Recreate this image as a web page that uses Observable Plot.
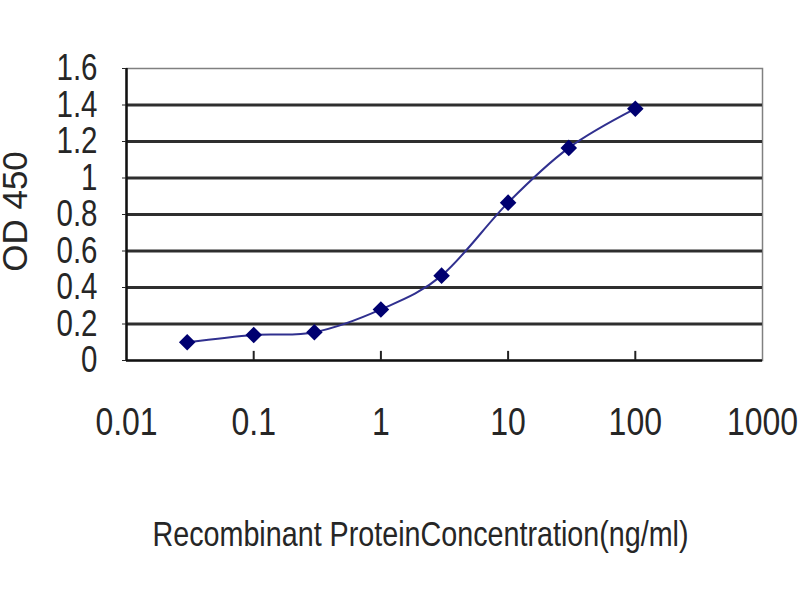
<!DOCTYPE html>
<html>
<head>
<meta charset="utf-8">
<script src="https://cdn.jsdelivr.net/npm/d3@7"></script>
<script src="https://cdn.jsdelivr.net/npm/@observablehq/plot@0.6"></script>
<style>
  body { margin: 0; background: #fff; }
  #chart svg { display: block; overflow: visible; }
</style>
</head>
<body>
<div id="chart"></div>
<script>
// ELISA standard curve values
var concentration = [0.03, 0.1, 0.3, 1, 3, 10, 30, 100];
var od450 = [0.10, 0.14, 0.155, 0.28, 0.465, 0.865, 1.165, 1.38];
var xTicks = [0.01, 0.1, 1, 10, 100, 1000];
var yTicks = [0, 0.2, 0.4, 0.6, 0.8, 1, 1.2, 1.4, 1.6];
var xTitle = "Recombinant ProteinConcentration(ng/ml)";
var yTitle = "OD 450";

var sans = "'Liberation Sans', Arial, sans-serif";

var points = concentration.map(function(c, i) { return {x: c, y: od450[i]}; });

var plot = Plot.plot({
  width: 800,
  height: 600,
  marginLeft: 126,
  marginRight: 38,
  marginTop: 68,
  marginBottom: 240,
  x: {type: "log", domain: [0.01, 1000]},
  y: {domain: [0, 1.6]},
  style: {fontFamily: sans, color: "#262626", background: "#fff"},
  marks: [
    Plot.frame({stroke: "#808080", strokeWidth: 1.5}),
    // horizontal gridlines between bottom axis and top border
    Plot.ruleY(yTicks.slice(1, -1), {stroke: "#2e2e2e", strokeWidth: 3}),
    Plot.ruleY([0], {stroke: "#111", strokeWidth: 2.5}),
    Plot.ruleX([0.01], {stroke: "#111", strokeWidth: 2.5}),
    // small inward ticks on the bottom axis
    Plot.ruleX(xTicks.slice(1, -1), {y1: 0, y2: 0.05, stroke: "#222", strokeWidth: 2}),
    Plot.axisX({ticks: xTicks, tickFormat: function(d) { return String(d); }, tickSize: 0, tickPadding: 47, fontSize: 39, label: null}),
    Plot.axisY({ticks: yTicks, tickFormat: function(d) { return String(d); }, tickSize: 4, tickPadding: 25, fontSize: 36, label: null}),
    Plot.text([xTitle], {frameAnchor: "bottom", dx: -24, dy: 174, lineAnchor: "middle", fontSize: 35, fill: "#262626"}),
    Plot.text([yTitle], {frameAnchor: "left", textAnchor: "middle", dx: -111, dy: -3, rotate: -90, fontSize: 35, fill: "#262626"}),
    Plot.line(points, {x: "x", y: "y", curve: "cardinal", stroke: "#30308f", strokeWidth: 2}),
    Plot.dot(points, {x: "x", y: "y", symbol: "square", rotate: 45, r: 6.6, fill: "#000070", stroke: "none"})
  ]
});

document.getElementById("chart").appendChild(plot);

// the original uses a narrow Arial; squeeze the glyphs horizontally to match
plot.querySelectorAll("text").forEach(function(t) {
  if (t.textContent === yTitle) return;
  var w = t.getComputedTextLength();
  t.setAttribute("textLength", (w * 0.82).toFixed(1));
  t.setAttribute("lengthAdjust", "spacingAndGlyphs");
});
</script>
</body>
</html>
